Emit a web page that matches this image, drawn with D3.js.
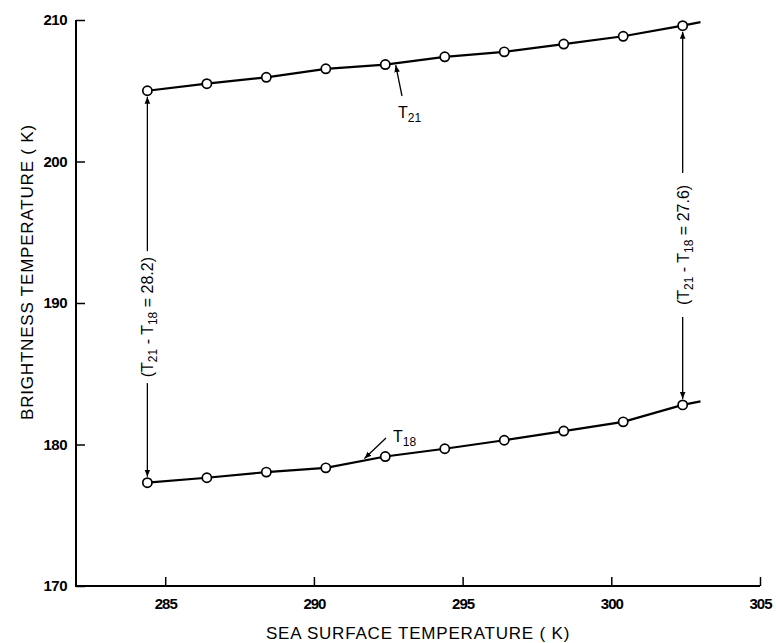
<!DOCTYPE html>
<html>
<head>
<meta charset="utf-8">
<script src="https://cdn.jsdelivr.net/npm/d3@7"></script>
<style>
  body { margin: 0; background: #fff; }
  svg { font-family: "Liberation Sans", Arial, sans-serif; }
  .tick text { font-size: 15px; font-weight: bold; }
</style>
</head>
<body>
<div id="plot-area"></div>
<script>
// Brightness temperature vs sea surface temperature

// Data
const sst = [284.4, 286.4, 288.4, 290.4, 292.4, 294.4, 296.4, 298.4, 300.4, 302.4];
const t21 = [205.0, 205.5, 205.95, 206.55, 206.85, 207.4, 207.75, 208.3, 208.85, 209.6];
const t18 = [177.3, 177.65, 178.05, 178.35, 179.15, 179.7, 180.3, 180.95, 181.6, 182.8];
const lineEnd = { sst: 303.0, t21: 209.85, t18: 183.05 };
const xTicks = [285, 290, 295, 300, 305];
const yTicks = [170, 180, 190, 200, 210];
const gapLabels = ["28.2", "27.6"];

const svg = d3.select("#plot-area").
append("svg").
attr("width", 776).
attr("height", 643);

const w = +svg.attr("width");
const h = +svg.attr("height");
const pT = 20, pR = 16, pB = 57, pL = 76; // padding, clockwise from top

// Scales
const xScale = d3.scaleLinear().
domain([282, 305]).
range([pL, w - pR]);

const yScale = d3.scaleLinear().
domain([170, 210]).
range([h - pB, pT]);

// Arrow marker
svg.append("defs").
append("marker").
attr("id", "arrow").
attr("viewBox", "0 0 10 10").
attr("refX", 10).
attr("refY", 5).
attr("markerWidth", 7).
attr("markerHeight", 7).
attr("markerUnits", "userSpaceOnUse").
attr("orient", "auto").
append("path").
attr("d", "M0,1 L10,5 L0,9 Z").
attr("fill", "#000");

// Axes, ticks pointing inward
const xAxis = d3.axisTop(xScale).
tickValues(xTicks).
tickSize(9).
tickFormat(d3.format("d"));

const yAxis = d3.axisRight(yScale).
tickValues(yTicks).
tickSize(9).
tickFormat(d3.format("d"));

const gx = svg.append("g").
attr("transform", `translate(0 ${h - pB})`).
call(xAxis);

gx.selectAll(".tick text").
attr("y", 23).
attr("dy", 0).
attr("letter-spacing", -1);

const gy = svg.append("g").
attr("transform", `translate(${pL} 0)`).
call(yAxis);

gy.selectAll(".tick text").
attr("x", -9).
attr("text-anchor", "end").
attr("letter-spacing", -0.5);

svg.selectAll(".domain").remove();
svg.selectAll(".tick line").attr("stroke-width", 1.5);

// axis lines drawn as one L
svg.append("path").
attr("d", `M${pL},${pT} V${h - pB} H${w - pR}`).
attr("fill", "none").
attr("stroke", "#000").
attr("stroke-width", 2);

// Axis titles
svg.append("text").
attr("x", 418).
attr("y", 639).
attr("text-anchor", "middle").
attr("font-size", 17).
attr("letter-spacing", 0.8).
text("SEA SURFACE TEMPERATURE ( K)");

svg.append("text").
attr("transform", `translate(33 ${272}) rotate(-90)`).
attr("text-anchor", "middle").
attr("font-size", 17).
attr("letter-spacing", 0.8).
text("BRIGHTNESS TEMPERATURE ( K)");

// Series lines and open circles
const line = d3.line().
x(d => xScale(d[0])).
y(d => yScale(d[1]));

[t21, t18].forEach((series, k) => {
  const pts = sst.map((s, i) => [s, series[i]]);
  pts.push([lineEnd.sst, k == 0 ? lineEnd.t21 : lineEnd.t18]);

  svg.append("path").
  datum(pts).
  attr("d", line).
  attr("fill", "none").
  attr("stroke", "#000").
  attr("stroke-width", 2.2);

  svg.append("g").
  selectAll("circle").
  data(pts.slice(0, sst.length)).
  join("circle").
  attr("cx", d => xScale(d[0])).
  attr("cy", d => yScale(d[1])).
  attr("r", 4.6).
  attr("fill", "#fff").
  attr("stroke", "#000").
  attr("stroke-width", 1.7);
});

// Difference annotations at both ends
const ends = [0, sst.length - 1];
const labelCentre = [189.0, 194.1]; // y value where the rotated label sits

ends.forEach((i, k) => {
  const x = xScale(sst[i]);
  const yTop = yScale(t21[i]) + 6;
  const yBot = yScale(t18[i]) - 6;
  const yc = yScale(labelCentre[k]);
  const half = k == 0 ? 66 : 72;

  svg.append("line").
  attr("x1", x).attr("x2", x).
  attr("y1", yc - half).attr("y2", yTop).
  attr("stroke", "#000").
  attr("stroke-width", 1.3).
  attr("marker-end", "url(#arrow)");

  svg.append("line").
  attr("x1", x).attr("x2", x).
  attr("y1", yc + half).attr("y2", yBot).
  attr("stroke", "#000").
  attr("stroke-width", 1.3).
  attr("marker-end", "url(#arrow)");

  const t = svg.append("text").
  attr("transform", `translate(${x + 6} ${yc}) rotate(-90)`).
  attr("text-anchor", "middle").
  attr("font-size", 16);

  t.append("tspan").text("(T");
  t.append("tspan").attr("font-size", 12).attr("dy", 4).text("21");
  t.append("tspan").attr("dy", -4).text(" - T");
  t.append("tspan").attr("font-size", 12).attr("dy", 4).text("18");
  t.append("tspan").attr("dy", -4).text(" = " + gapLabels[k] + ")");
});

// Series labels with pointer arrows
const seriesLabels = [
  { text: "T", sub: "21", at: 292.75, val: t21, tx: 398, ty: 118, ax: 402, ay: 96 },
  { text: "T", sub: "18", at: 291.7, val: t18, tx: 393, ty: 442, ax: 386, ay: 438 }];

seriesLabels.forEach(l => {
  // point on the line where the arrow lands
  const i = d3.bisectLeft(sst, l.at);
  const f = (l.at - sst[i - 1]) / (sst[i] - sst[i - 1]);
  const v = l.val[i - 1] + f * (l.val[i] - l.val[i - 1]);

  svg.append("line").
  attr("x1", l.ax).attr("y1", l.ay).
  attr("x2", xScale(l.at)).
  attr("y2", yScale(v) + (l.sub == "21" ? 2 : -2)).
  attr("stroke", "#000").
  attr("stroke-width", 1.3).
  attr("marker-end", "url(#arrow)");

  const t = svg.append("text").
  attr("x", l.tx).
  attr("y", l.ty).
  attr("font-size", 16);

  t.append("tspan").text(l.text);
  t.append("tspan").attr("font-size", 12).attr("dy", 4).text(l.sub);
});
</script>
</body>
</html>
